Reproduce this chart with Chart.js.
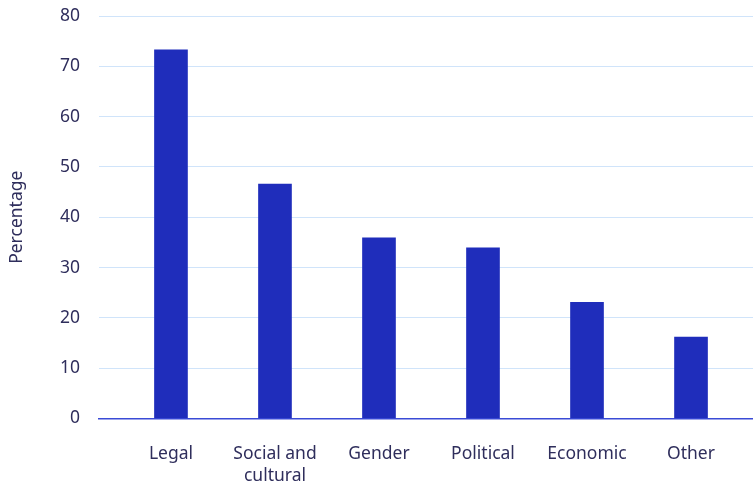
<!DOCTYPE html>
<html><head><meta charset="utf-8">
<script src="https://cdn.jsdelivr.net/npm/chart.js@4/dist/chart.umd.min.js"></script>
<style>html,body{margin:0;padding:0;background:#fff}#w{width:753px;height:484px}</style>
</head><body><div id="w"><canvas id="c"></canvas></div>
<script>
const categories = [["Legal"], ["Social and", "cultural"], ["Gender"], ["Political"], ["Economic"], ["Other"]];
const values = [73.3, 46.6, 35.9, 33.9, 23.1, 16.2];
const yTicks = [0, 10, 20, 30, 40, 50, 60, 70, 80];
const yTitle = "Percentage";

const textColor = '#2f2e5c';
const font = {family: "'Noto Sans', 'Open Sans', sans-serif", size: 17.5};
new Chart(document.getElementById('c'), {
  type: 'bar',
  data: {
    datasets: [{
      data: values.map((v, i) => ({x: i, y: v})),
      backgroundColor: '#1f2dbb',
      borderWidth: 0,
      barThickness: 33
    }]
  },
  options: {
    responsive: true, maintainAspectRatio: false, animation: false,
    layout: {padding: {top: 16, right: 0, left: 0, bottom: 0}},
    plugins: {legend: {display: false}, tooltip: {enabled: false}},
    scales: {
      x: {
        type: 'linear', min: -0.692, max: 5.596, offset: false,
        afterBuildTicks: s => { s.ticks = categories.map((c, i) => ({value: i})); },
        afterFit: s => { s.height = 65.5; s.paddingLeft = 0; s.paddingRight = 0; s.paddingTop = 0; s.paddingBottom = 0; },
        grid: {display: false, drawTicks: false, offset: false},
        border: {display: true, color: '#3a4bd6', width: 1.5},
        ticks: {autoSkip: false, maxRotation: 0, padding: 24, color: textColor,
          font: {family: font.family, size: 17.5, lineHeight: 1.27},
          callback: v => categories[v]}
      },
      y: {
        min: 0, max: 80,
        afterBuildTicks: s => { s.ticks = yTicks.map(v => ({value: v})); },
        afterFit: s => { s.width = 99; s.paddingTop = 0; s.paddingBottom = 0; s.paddingLeft = 0; s.paddingRight = 0; },
        grid: {color: '#d0e4fa', lineWidth: 1, drawTicks: false},
        border: {display: false},
        ticks: {padding: 19, color: textColor, font: font},
        title: {display: true, text: yTitle, color: textColor, font: {family: font.family, size: 17.5}, padding: {top: 7, bottom: 0}}
      }
    }
  }
});
</script></body></html>
